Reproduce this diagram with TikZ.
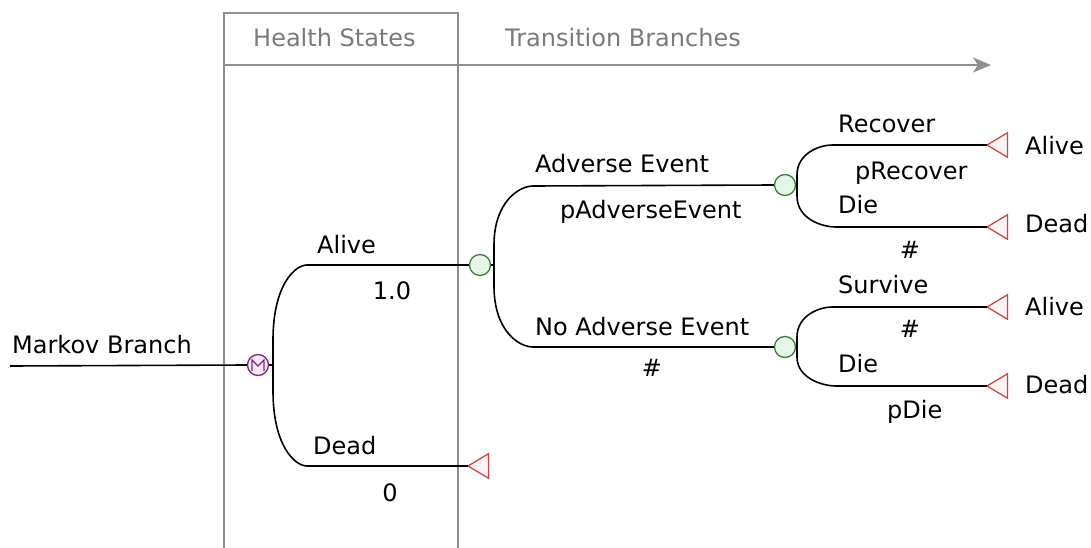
\documentclass[tikz,border=0pt]{standalone}
\usepackage{fontspec}
\setmainfont{DejaVu Sans}
\usetikzlibrary{arrows.meta}
\definecolor{hdrgray}{HTML}{8E8E8E}
\definecolor{hdrtext}{HTML}{7A7A7A}
\definecolor{chgreen}{HTML}{3C7A3C}
\definecolor{chfill}{HTML}{E6F6E6}
\definecolor{mkpurple}{HTML}{7A2A7A}
\definecolor{mkfill}{HTML}{F6E8F6}
\definecolor{tmred}{HTML}{C84848}
\definecolor{tmfill}{HTML}{FFF4F4}
\begin{document}
\begin{tikzpicture}[x=1pt,y=-1pt,
  lbl/.style={font=\fontsize{24}{28}\selectfont, inner sep=0pt, anchor=base west, text=black},
  lblc/.style={lbl, anchor=base},
  hdr/.style={lbl, text=hdrtext},
  gline/.style={draw=hdrgray, line width=1.8pt},
  branch/.style={draw=black, line width=1.6pt},
  chance/.style={circle, draw=chgreen, fill=chfill, line width=1.3pt, minimum size=21pt, inner sep=0pt},
  markovnode/.style={circle, draw=mkpurple, fill=mkfill, line width=1.3pt, minimum size=21pt, inner sep=0pt},
  termbox/.style={rectangle, minimum width=20pt, minimum height=24pt, inner sep=0pt, anchor=west},
  termtri/.style={draw=tmred, fill=tmfill, line width=1.3pt, line join=miter}
]
\useasboundingbox (0,0) rectangle (1091,548);
\fill[white] (0,0) rectangle (1091,548);

% header
\coordinate (hTL) at (224,13);
\coordinate (hTR) at (458,13);
\coordinate (hBL) at (224,548);
\coordinate (hBR) at (458,548);
\coordinate (hML) at (224,65);
\coordinate (hArrow) at (991,65);
\draw[gline] (hBL) -- (hTL) -- (hTR) -- (hBR);
\draw[gline, -{Stealth[length=18pt,width=15pt,inset=5pt]}] (hML) -- (hArrow);
\node[hdr] (hs) at (253,47) {Health States};
\node[hdr] (tb) at (505,47) {Transition Branches};

% nodes
\node[markovnode] (mk) at (258,365) {};
\draw[mkpurple, line width=1.1pt] (252,371) -- ++(0,-11) -- ++(6,6) -- ++(6,-6) -- ++(0,11);
\node[chance] (c1) at (480,265) {};
\node[chance] (c2) at (785,185) {};
\node[chance] (c3) at (785,347) {};

\node[termbox] (t0) at (468,466) {};
\node[termbox] (t1) at (987,145) {};
\node[termbox] (t2) at (987,227) {};
\node[termbox] (t3) at (987,307) {};
\node[termbox] (t4) at (987,386) {};
\foreach \t in {t0,t1,t2,t3,t4}{
  \draw[termtri] (\t.west) -- (\t.north east) -- (\t.south east) -- cycle;
}

% Markov branch
\coordinate (mstart) at (10,366);
\draw[branch] (mstart) -- (mk.west);
\coordinate (a1) at (307,265);
\coordinate (a2) at (307,466);
\draw[branch] (mk.east) -- (273,365);
\draw[branch] (a1) .. controls (295,265) and (273,285) .. (273,340) -- (273,391) .. controls (273,446) and (295,466) .. (a2);
\draw[branch] (a1) -- (c1.west);
\draw[branch] (a2) -- (t0.west);

% first chance node
\coordinate (b1) at (533,186);
\coordinate (b2) at (533,347);
\draw[branch] (c1.east) -- (494,265);
\draw[branch] (b1) .. controls (519,186) and (494,202) .. (494,245) -- (494,286) .. controls (494,331) and (519,347) .. (b2);
\draw[branch] (b1) -- (c2.west);
\draw[branch] (b2) -- (c3.west);

% second chance node
\coordinate (d1) at (832,145);
\coordinate (d2) at (836,227);
\draw[branch] (c2.east) -- (797,185);
\draw[branch] (d1) .. controls (820,145) and (797,153) .. (797,175) -- (797,196) .. controls (797,219) and (822,227) .. (d2);
\draw[branch] (d1) -- (t1.west);
\draw[branch] (d2) -- (t2.west);

% third chance node
\coordinate (e1) at (832,307);
\coordinate (e2) at (836,386);
\draw[branch] (c3.east) -- (797,347);
\draw[branch] (e1) .. controls (820,307) and (797,315) .. (797,337) -- (797,357) .. controls (797,378) and (822,386) .. (e2);
\draw[branch] (e1) -- (t3.west);
\draw[branch] (e2) -- (t4.west);

% labels
\node[lbl] (lmk) at (12,353) {Markov Branch};
\node[lbl] (lal) at (317,253) {Alive};
\node[lblc] (p10) at (392,299) {1.0};
\node[lbl] (lde) at (313,454) {Dead};
\node[lblc] (p0) at (390,501) {0};
\node[lbl] (lae) at (535,173) {Adverse Event};
\node[lbl] (pae) at (560,218) {pAdverseEvent};
\node[lbl] (lna) at (535,335) {No Adverse Event};
\node[lblc] (pna) at (652,376) {\#};
\node[lbl] (lrc) at (838,133) {Recover};
\node[lbl] (prc) at (855,179) {pRecover};
\node[lbl] (ld1) at (838,213) {Die};
\node[lblc] (pd1) at (910,258) {\#};
\node[lbl] (lsv) at (838,293) {Survive};
\node[lblc] (psv) at (910,337) {\#};
\node[lbl] (ld2) at (838,372) {Die};
\node[lbl] (pd2) at (887,418) {pDie};
\node[lbl] (ta1) at (1025,155) {Alive};
\node[lbl] (td1) at (1025,232) {Dead};
\node[lbl] (ta2) at (1025,315) {Alive};
\node[lbl] (td2) at (1025,393) {Dead};
\end{tikzpicture}
\end{document}
